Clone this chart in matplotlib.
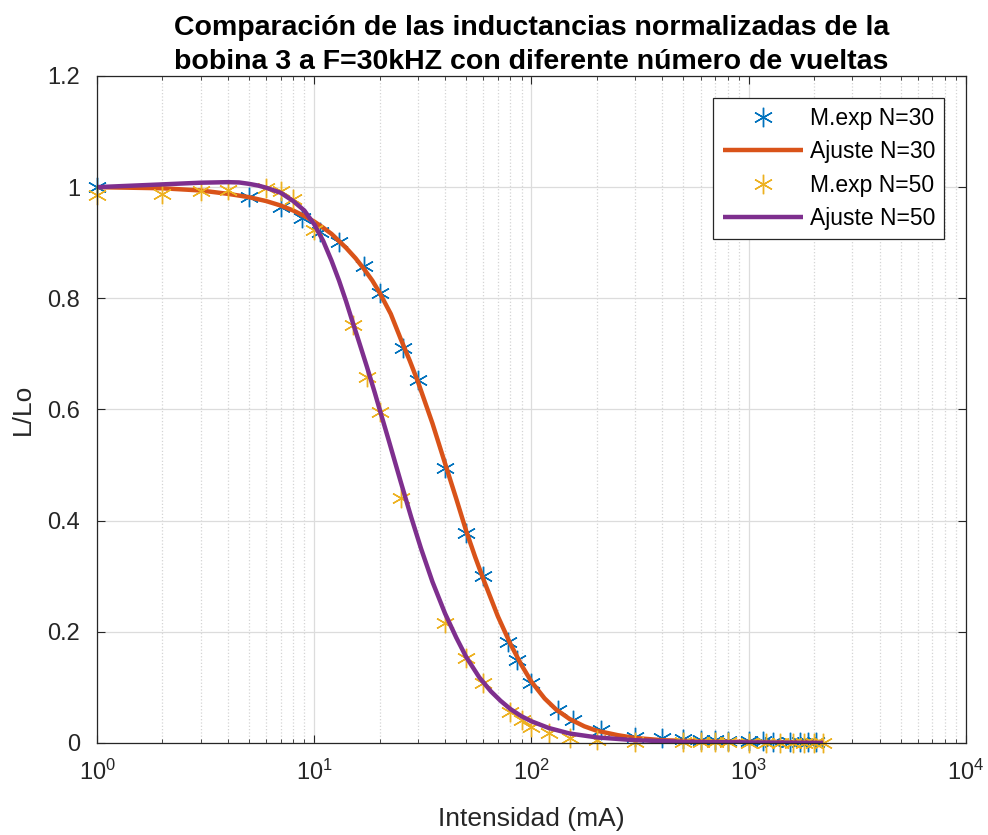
"""
    Inductancia normalizada de la bobina 3 frente a la intensidad, N=30 y N=50
"""
import numpy as np
import matplotlib
matplotlib.use("Agg")
import matplotlib.pyplot as plt
from matplotlib.ticker import FuncFormatter, LogLocator, NullFormatter

plt.rcParams['font.family'] = ['Liberation Sans', 'DejaVu Sans']

# medidas experimentales, N=30
i_n30 = [1, 5, 7, 8.8, 10.6, 13, 17, 20, 25.5, 30, 40, 50, 60, 78, 86, 100, 132, 155, 210,
         300, 400, 500, 600, 700, 800, 1000, 1160, 1300, 1550, 1720, 1870, 2040]
l_n30 = [1.0, 0.982, 0.964, 0.945, 0.919, 0.901, 0.858, 0.810, 0.710, 0.653, 0.495, 0.378,
         0.300, 0.182, 0.150, 0.108, 0.059, 0.041, 0.023,
         0.010, 0.009, 0.007, 0.006, 0.005, 0.004, 0.003, 0.003, 0.002, 0.002, 0.002, 0.001, 0.001]

# ajuste, N=30
i_fit30 = [1, 2, 3, 4, 5, 6, 7, 8, 9, 10, 11, 12, 13, 14, 15.5, 17, 18.5, 20, 22.5, 25,
           27.5, 30, 35, 40, 45, 50, 55, 60, 70, 80, 90, 100, 115, 130, 150, 175, 200,
           250, 300, 400, 600, 1000, 2200]
l_fit30 = [1.0, 0.998, 0.994, 0.988, 0.982, 0.975, 0.967, 0.958, 0.948, 0.938, 0.927,
           0.916, 0.903, 0.891, 0.872, 0.852, 0.832, 0.810, 0.772, 0.727, 0.688, 0.650,
           0.575, 0.503, 0.440, 0.382, 0.335, 0.295, 0.228, 0.178, 0.140, 0.110, 0.080,
           0.060, 0.043, 0.030, 0.022, 0.014, 0.009, 0.005, 0.003, 0.002, 0.001]

# medidas experimentales, N=50
i_n50 = [1, 2, 3, 4, 6, 7, 8, 10, 15, 17.5, 20, 25, 40, 50, 60, 80, 90, 100, 120, 150, 200,
         300, 500, 600, 700, 800, 1000, 1200, 1400, 1600, 1800, 2000, 2200]
l_n50 = [0.985, 0.988, 0.993, 0.995, 0.998, 0.993, 0.978, 0.923, 0.752, 0.658, 0.596, 0.440,
         0.216, 0.153, 0.108, 0.056, 0.041, 0.029, 0.018, 0.009, 0.005,
         0.002, 0.001, 0.001, 0.001, 0.001, 0.0, 0.0, 0.0, 0.0, 0.0, 0.0, 0.0]

# ajuste, N=50
i_fit50 = [1, 2, 3, 4, 4.5, 5, 5.5, 6, 7, 8, 9, 10, 11, 12, 13, 14, 15, 16, 17.5, 19, 20,
           22, 25, 28, 31, 35, 40, 45, 50, 57.5, 65, 72, 80, 90, 100, 120, 150, 200, 300,
           500, 1000, 2200]
l_fit50 = [1.0, 1.005, 1.008, 1.009, 1.0085, 1.006, 1.003, 0.999, 0.990, 0.975, 0.958,
           0.933, 0.903, 0.868, 0.832, 0.795, 0.758, 0.724, 0.676, 0.630, 0.600, 0.545,
           0.470, 0.405, 0.350, 0.290, 0.233, 0.190, 0.155, 0.118, 0.093, 0.076, 0.061,
           0.048, 0.039, 0.027, 0.017, 0.010, 0.005, 0.002, 0.001, 0.0]

azul = '#0072BD'
naranja = '#D95319'
amarillo = '#EDB120'
morado = '#7E2F8E'
gris = '#262626'

fig = plt.figure(figsize=(9.88, 8.35), dpi=100)
ax = fig.add_axes([0.0982, 0.1102, 0.8795, 0.7988])

asterisco = (6, 2, 0)
ax.plot(i_n30, l_n30, linestyle='none', marker=asterisco, markersize=14,
        markeredgewidth=1.0, color=azul, label='M.exp N=30', clip_on=False)
ax.plot(i_fit30, l_fit30, color=naranja, linewidth=3.2, label='Ajuste N=30',
        solid_capstyle='butt')
ax.plot(i_n50, l_n50, linestyle='none', marker=asterisco, markersize=14,
        markeredgewidth=1.0, color=amarillo, label='M.exp N=50', clip_on=False)
ax.plot(i_fit50, l_fit50, color=morado, linewidth=3.2, label='Ajuste N=50',
        solid_capstyle='butt')

ax.set_xscale('log')
ax.set_xlim(1, 1e4)
ax.set_ylim(0, 1.2)
ax.set_yticks(np.arange(0, 1.21, 0.2))
ax.yaxis.set_major_formatter(FuncFormatter(lambda v, p: '%g' % round(v, 2)))
ax.xaxis.set_minor_locator(LogLocator(base=10, subs=np.arange(2, 10), numticks=20))
ax.xaxis.set_minor_formatter(NullFormatter())

ax.grid(True, which='major', color='#dcdcdc', linewidth=0.9)
ax.grid(True, which='minor', axis='x', color='#d4d4d4', linestyle=':', linewidth=0.9)
ax.set_axisbelow(True)

for s in ax.spines.values():
    s.set_color(gris)
    s.set_linewidth(0.9)
ax.tick_params(which='both', direction='in', top=True, right=True, colors=gris,
               labelsize=17)
ax.tick_params(axis='y', pad=12)
ax.tick_params(axis='x', pad=12)
ax.tick_params(which='major', length=6)
ax.tick_params(which='minor', length=3)

ax.set_xlabel('Intensidad (mA)', fontsize=19, color=gris, labelpad=16)
ax.set_ylabel('L/Lo', fontsize=19, color=gris, labelpad=9)
ax.set_title('Comparación de las inductancias normalizadas de la\n'
             'bobina 3 a F=30kHZ con diferente número de vueltas',
             fontsize=20.5, fontweight='bold', color='black', pad=5, linespacing=1.38)

leg = ax.legend(loc='upper right', fontsize=16.5, handlelength=3.5, borderpad=0.4,
                labelspacing=0.45, handletextpad=0.3, fancybox=False, framealpha=1,
                borderaxespad=0.95)
leg.get_frame().set_edgecolor(gris)
leg.get_frame().set_linewidth(0.9)

fig.savefig('out.png', dpi=100)
